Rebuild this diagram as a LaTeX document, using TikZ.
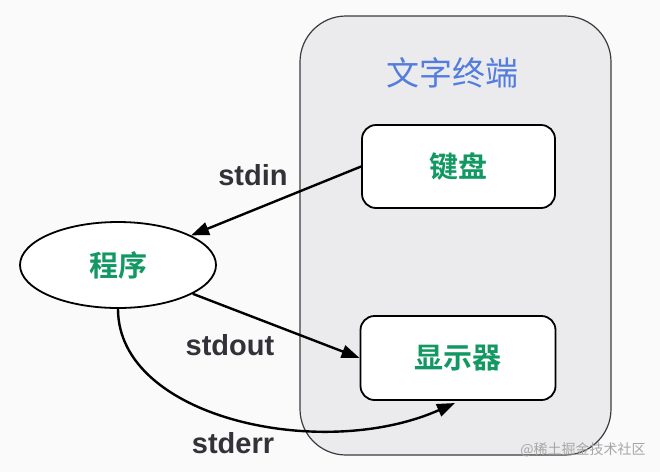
\documentclass[tikz,border=0pt]{standalone}
\usepackage{fontspec}
\setmainfont{Liberation Sans}
\newfontfamily\cjk{Noto Sans CJK SC}
\newfontfamily\cjkb{Noto Sans CJK SC Bold}
\usetikzlibrary{shapes.geometric,arrows.meta}
\definecolor{bgc}{RGB}{250,250,251}
\definecolor{termfill}{RGB}{235,235,238}
\definecolor{termline}{RGB}{60,60,64}
\definecolor{cngreen}{RGB}{18,152,98}
\definecolor{cnblue}{RGB}{82,124,222}
\definecolor{labgray}{RGB}{50,50,56}
\tikzset{
  devbox/.style={draw=black, line width=1.8pt, fill=white, rounded corners=14pt, font=\cjkb\fontsize{29}{32}\selectfont, text=cngreen},
  conn/.style={line width=2.4pt, -{Triangle[length=18pt,width=13pt]}},
  streamlab/.style={font=\bfseries\fontsize{29}{32}\selectfont, text=labgray}
}
\begin{document}
\begin{tikzpicture}[x=1pt,y=-1pt]
\useasboundingbox (0,0) rectangle (660,472);
\fill[bgc] (0,0) rectangle (660,472);
\draw[termline, line width=1.2pt, fill=termfill, rounded corners=46pt] (300,16) rectangle (611,455);
\node (title) at (452,73) [font=\cjk\fontsize{33}{36}\selectfont, text=cnblue] {文字终端};
\node[devbox, minimum width=193pt, minimum height=83pt] (kb) at (458.5,166.5) {键盘};
\node[devbox, minimum width=195pt, minimum height=84pt] (disp) at (458,358) {显示器};
\node[ellipse, draw=black, line width=1.8pt, fill=white, minimum width=196pt, minimum height=86pt, font=\cjkb\fontsize{29}{32}\selectfont, text=cngreen] (prog) at (118,265) {程序};
\draw[conn] (kb.west) -- (prog);
\draw[conn] (prog) -- (disp.west);
\coordinate (errend) at (455,403);
\draw[conn] (prog.south) .. controls (118,418) and (322,462) .. (errend);
\node[streamlab] (lin) at (253,175) {stdin};
\node[streamlab] (lout) at (230,345) {stdout};
\node[streamlab] (lerr) at (233,443) {stderr};
\node (wm) at (583,450) [font=\cjk\fontsize{14}{16}\selectfont, text=black!35] {@稀土掘金技术社区};
\end{tikzpicture}
\end{document}
